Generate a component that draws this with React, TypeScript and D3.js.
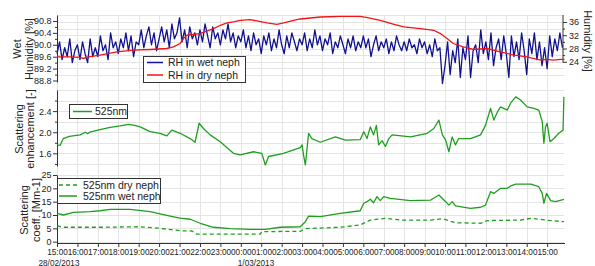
import { useEffect, useRef } from 'react';
import * as d3 from 'd3';

const FONT = '"Liberation Sans", Arial, sans-serif';
const BLUE = '#12128f';
const RED = '#f21414';
const GREEN = '#1f9f1f';

// time axis: hours since 28/02/2013 15:00
const startTime = new Date(2013, 1, 28, 15, 0);
const spanHours = 24.85;
const dateLabels = ['28/02/2013', '1/03/2013'];

// RH in wet neph, one sample every 7.5 min
const wetRhStep = 0.125;
const wetRh = [
  89.7, 90.1, 89.5, 89.9, 89.6, 90.2, 89.4, 89.8,
  90.0, 89.5, 90.1, 89.7, 89.4, 90.2, 89.6, 89.9,
  89.6, 90.3, 89.8, 90.0, 89.5, 90.4, 89.9, 90.1,
  89.7, 90.2, 89.9, 90.4, 89.8, 90.3, 89.6, 90.1,
  90.0, 90.5, 89.9, 90.3, 90.6, 90.0, 90.4, 89.8,
  90.2, 90.6, 90.1, 90.5, 89.9, 90.7, 90.2, 90.4,
  90.9, 90.1, 90.5, 89.9, 90.6, 90.2, 90.4, 90.0,
  90.5, 90.1, 90.7, 90.3, 89.9, 90.6, 90.2, 90.4,
  90.0, 90.5, 90.2, 90.7, 90.1, 90.4, 89.9, 90.3,
  90.1, 90.5, 89.9, 90.3, 89.8, 90.4, 90.0, 90.2,
  89.7, 90.3, 90.0, 90.4, 89.8, 90.2, 89.9, 90.5,
  90.0, 89.7, 90.3, 89.9, 90.4, 90.1, 89.8, 90.2,
  90.0, 90.4, 89.8, 90.2, 89.9, 90.5, 90.0, 90.3,
  89.8, 90.2, 90.0, 90.4, 89.7, 90.1, 89.9, 90.3,
  90.0, 89.7, 90.2, 89.9, 90.3, 89.8, 90.1, 89.9,
  90.3, 89.9, 90.2, 89.6, 90.0, 90.3, 89.8, 90.1,
  89.9, 90.2, 89.7, 90.1, 89.8, 90.3, 90.0, 89.8,
  90.1, 89.8, 90.2, 89.9, 90.0, 89.7, 90.2, 89.9,
  90.1, 89.7, 90.0, 89.6, 90.2, 89.8, 89.9, 88.7,
  89.3, 90.1, 89.0, 89.8, 89.4, 90.2, 88.9, 89.9,
  89.5, 90.3, 88.9, 89.8, 90.0, 89.4, 90.5, 89.7,
  90.1, 89.5, 90.4, 89.3, 89.9, 90.2, 89.5, 90.3,
  89.7, 88.9, 90.3, 89.6, 90.1, 89.5, 90.4, 89.8,
  89.0, 90.2, 89.7, 90.4, 89.5, 90.1, 89.3, 89.9,
  89.2, 90.3, 89.6, 90.2, 89.8, 90.4, 89.9,
];

// RH in dry neph (right axis)
const dryRhHours = [
  0, 0.6, 1.13, 1.29, 1.5, 2.1, 2.93, 3.74, 4.56, 5.37, 5.7, 6.03, 6.19, 6.36, 7.0, 7.66,
  8.0, 8.32, 8.64, 8.97, 9.46, 9.79, 10.28, 10.77, 11.1, 11.59, 11.91, 12.9, 13.87, 14.85,
  15.2, 15.83, 16.5, 16.98, 17.8, 18.45, 18.77, 19.1, 19.4, 19.9, 20.4, 21.06, 21.7, 22.4,
  23.0, 23.7, 24.0, 24.3, 24.66, 24.85,
];
const dryRh = [
  25.5, 25.5, 25.3, 25.0, 25.4, 26.0, 27.0, 27.5, 27.7, 28.0, 28.5, 29.5, 31.0, 32.0, 32.5, 34.0,
  35.0, 35.7, 36.0, 36.5, 36.7, 36.3, 35.7, 35.3, 35.7, 36.5, 36.9, 37.5, 37.7, 37.7,
  37.3, 36.5, 35.3, 34.5, 34.0, 33.5, 32.5, 31.0, 29.5, 28.5, 27.7, 28.0, 27.0, 26.0,
  25.5, 24.5, 24.7, 24.5, 24.7, 24.7,
];

// scattering enhancement at 525 nm
const enhHours = [
  0, 0.15, 0.31, 0.6, 1.13, 1.4, 1.5, 1.6, 2.11, 2.6, 3.09, 3.5, 3.8, 4.07, 4.56, 5.05, 5.38,
  5.62, 6.03, 6.52, 6.76, 6.96, 7.17, 7.5, 7.99, 8.64, 8.97, 9.62, 10.03, 10.2, 10.36, 11.09,
  11.91, 12.0, 12.07, 12.16, 12.32, 12.48, 12.89, 13.63, 14.12, 14.85, 15.02, 15.18, 15.34,
  15.5, 15.64, 15.75, 15.92, 16.08, 16.25, 16.41, 17.31, 18.13, 18.45, 18.7, 18.87, 19.03,
  19.19, 19.35, 19.51, 19.67, 20.25, 20.74, 20.98, 21.23, 21.39, 21.56, 21.72, 22.05, 22.21,
  22.46, 22.7, 23.02, 23.35, 23.59, 23.76, 23.84, 23.92, 24.0, 24.14, 24.33, 24.57, 24.78, 24.82,
];
const enh = [
  1.76, 1.75, 1.88, 1.92, 1.95, 2.0, 1.97, 2.0, 2.05, 2.09, 2.12, 2.15, 2.13, 2.1, 2.01, 1.98, 1.93,
  2.04, 1.98, 1.88, 1.81, 2.17, 2.07, 1.95, 1.82, 1.6, 1.57, 1.63, 1.6, 1.38, 1.54, 1.6,
  1.71, 1.76, 1.57, 1.38, 1.98, 1.88, 1.81, 1.91, 1.85, 1.86, 2.01, 1.88, 2.1,
  1.95, 2.13, 1.76, 1.84, 1.73, 1.88, 1.95, 1.91, 1.98, 2.07, 2.23, 1.95, 1.85,
  1.63, 1.91, 1.76, 1.88, 1.88, 1.95, 2.13, 2.45, 2.23, 2.38, 2.48, 2.42, 2.55,
  2.67, 2.61, 2.48, 2.45, 2.42, 2.2, 1.79, 2.1, 2.17, 1.82, 1.88, 1.98, 2.04, 2.67,
];

// scattering coefficient, wet neph
const wetScatHours = [
  0, 0.31, 0.8, 1.62, 2.1, 2.6, 3.58, 3.9, 4.56, 5.05, 5.54, 6.03, 6.52, 7.01, 7.66, 8.48, 9.46,
  10.2, 10.93, 11.91, 12.16, 12.32, 12.89, 13.87, 14.85, 15.02, 15.18, 15.34, 15.5, 15.67, 15.83,
  16.0, 16.32, 17.31, 18.3, 18.7, 19.03, 19.19, 19.35, 19.51, 20.25, 20.74, 20.98, 21.23, 21.39,
  21.72, 22.05, 22.21, 22.46, 23.2, 23.59, 23.76, 23.84, 23.97, 24.17, 24.41, 24.82,
];
const wetScat = [
  10.6, 10.0, 11.0, 11.25, 11.6, 12.1, 12.1, 11.8, 11.25, 10.4, 9.6, 8.8, 8.4, 6.9, 5.4, 4.9, 4.6,
  4.6, 5.4, 5.6, 7.5, 9.6, 9.4, 10.6, 11.6, 14.4, 15.0, 15.9, 14.6, 16.9, 15.4,
  16.9, 16.2, 15.4, 15.6, 17.5, 15.0, 13.7, 15.0, 13.4, 12.5, 12.9, 13.7, 18.75, 18.1,
  20.0, 20.0, 20.9, 21.6, 21.6, 20.6, 18.1, 14.4, 18.1, 15.4, 15.0, 15.9,
];

// scattering coefficient, dry neph
const dryScatHours = [
  0, 0.31, 2.1, 4.07, 5.05, 6.03, 6.6, 6.85, 9.95, 10.03, 11.91, 12.16, 13.87, 14.85, 15.34,
  16.08, 16.81, 18.3, 18.87, 19.51, 20.74, 21.07, 22.7, 23.2, 24.17, 24.82,
];
const dryScat = [
  5.9, 5.4, 5.4, 5.6, 5.0, 4.1, 4.0, 2.8, 2.8, 3.75, 3.9, 4.9, 5.4, 6.25, 8.1,
  8.75, 8.1, 8.1, 8.6, 7.1, 6.9, 7.9, 8.1, 8.75, 7.9, 7.5,
];

const wetRhTicks = [88.8, 89.2, 89.6, 90.0, 90.4, 90.8];
const wetRhMinor = [89.0, 89.4, 89.8, 90.2, 90.6];
const dryRhTicks = [24, 28, 32, 36];
const dryRhMinor = [26, 30, 34];
const dryRhGrid = [20, 22, 24, 26, 28, 30, 32, 34, 36, 38];
const enhTicks = [1.6, 2.0, 2.4];
const enhMinor = [1.4, 1.8, 2.2, 2.6];
const scatTicks = [0, 5, 10, 15, 20, 25];

const at = (h: number) => new Date(startTime.getTime() + h * 3600e3);

export default function App() {
  const svgRef = useRef<SVGSVGElement>(null);

  useEffect(() => {
    if (!svgRef.current) return;
    const svg = d3.select(svgRef.current);
    svg.selectAll('*').remove();

    const left = 57;
    const right = 564;
    const x = d3.scaleTime().domain([startTime, at(spanHours)]).range([left, right + 0.5]);
    const yWet = d3.scaleLinear().domain([88.75, 91.0]).range([82, 15]);
    const yDry = d3.scaleLinear().domain([17.9, 38.1]).range([82, 15]);
    const yEnh = d3.scaleLinear().domain([1.36, 2.8]).range([166, 90]);
    const yScat = d3.scaleLinear().domain([-0.5, 25]).range([243, 175]);

    const hourTicks = x.ticks(d3.timeHour.every(1)!);

    // Grid
    const grid = svg.append('g').attr('stroke', '#e4e4e4').attr('stroke-width', 1);
    grid.selectAll('.vg')
      .data(hourTicks)
      .join('line')
      .attr('x1', (d) => Math.round(x(d)) + 0.5)
      .attr('x2', (d) => Math.round(x(d)) + 0.5)
      .attr('y1', 15)
      .attr('y2', 243);
    const hGrid = (vals: number[], y: d3.ScaleLinear<number, number>) => {
      grid.append('g')
        .selectAll('line')
        .data(vals)
        .join('line')
        .attr('x1', left).attr('x2', right)
        .attr('y1', (d) => Math.round(y(d)) + 0.5)
        .attr('y2', (d) => Math.round(y(d)) + 0.5);
    };
    hGrid(dryRhGrid, yDry);
    hGrid(d3.range(1.4, 2.81, 0.2), yEnh);
    hGrid(scatTicks, yScat);

    // Axes
    const styleAxis = (g: d3.Selection<SVGGElement, unknown, null, undefined>, size = 9) => {
      g.attr('font-family', FONT).attr('font-size', size);
      g.select('.domain').attr('stroke', '#333');
      g.selectAll('.tick line').attr('stroke', '#333');
      g.selectAll('.tick text').attr('fill', '#222');
    };
    const leftAxis = (y: d3.ScaleLinear<number, number>, ticks: number[], fmt: string, minor: number[]) => {
      const g = svg.append('g').attr('transform', `translate(${left},0)`)
        .call(d3.axisLeft(y).tickValues(ticks).tickSize(4).tickPadding(1.5).tickSizeOuter(0)
          .tickFormat((d) => d3.format(fmt)(d as number)));
      styleAxis(g);
      if (minor.length) {
        const m = svg.append('g').attr('transform', `translate(${left},0)`)
          .call(d3.axisLeft(y).tickValues(minor).tickSize(2).tickFormat(() => ''));
        m.select('.domain').remove();
        m.selectAll('.tick line').attr('stroke', '#333');
      }
    };
    leftAxis(yWet, wetRhTicks, '.1f', wetRhMinor);
    leftAxis(yEnh, enhTicks, '.1f', enhMinor);
    leftAxis(yScat, scatTicks, 'd', []);

    const ra = svg.append('g').attr('transform', `translate(${right - 1},0)`)
      .call(d3.axisRight(yDry).tickValues(dryRhTicks).tickSize(4).tickPadding(2).tickSizeOuter(0));
    styleAxis(ra);
    ra.select('.domain').remove();
    ra.append('line')
      .attr('y1', yDry.range()[1]).attr('y2', yDry(24) + 1)
      .attr('stroke', '#333');
    const rm = svg.append('g').attr('transform', `translate(${right - 1},0)`)
      .call(d3.axisRight(yDry).tickValues(dryRhMinor).tickSize(2).tickFormat(() => ''));
    rm.select('.domain').remove();
    rm.selectAll('.tick line').attr('stroke', '#333');

    const xa = svg.append('g').attr('transform', 'translate(0,243)')
      .call(d3.axisBottom(x).tickValues(hourTicks).tickSize(4).tickPadding(2.5).tickSizeOuter(0)
        .tickFormat((d) => d3.timeFormat('%H:%M')(d as Date)));
    styleAxis(xa, 8.2);

    // Date labels
    const midnight = hourTicks.find((d) => d.getHours() === 0)!;
    svg.append('text')
      .attr('x', x(startTime) + 2).attr('y', 265.5)
      .attr('text-anchor', 'middle')
      .attr('font-family', FONT).attr('font-size', 8.2).attr('fill', '#222')
      .text(dateLabels[0]);
    svg.append('text')
      .attr('x', x(midnight) - 3).attr('y', 265.5)
      .attr('text-anchor', 'start')
      .attr('font-family', FONT).attr('font-size', 8.2).attr('fill', '#222')
      .text(dateLabels[1]);

    // Axis titles
    const title = (lines: string[], xs: number[], cy: number, rot = -90) => {
      lines.forEach((t, i) => {
        svg.append('text')
          .attr('transform', `translate(${xs[i]},${cy}) rotate(${rot})`)
          .attr('text-anchor', 'middle')
          .attr('font-family', FONT).attr('font-size', 11).attr('fill', '#222')
          .text(t);
      });
    };
    title(['Wet', 'Humidity [%]'], [20.5, 33], 49);
    title(['Scattering', 'enhancement [-]'], [22.5, 34], 129);
    title(['Scattering', 'coeff. [Mm-1]'], [28, 39.5], 210);
    title(['Humidity [%]'], [583.5], 41, 90);

    // Series
    const line = d3.line<[number, number]>().x((d) => x(at(d[0]))).y((d) => d[1]);
    const zip = (hs: number[], vs: number[], y: d3.ScaleLinear<number, number>) =>
      hs.map((h, i) => [h, y(vs[i])] as [number, number]);

    svg.append('path')
      .attr('d', line(wetRh.map((v, i) => [i * wetRhStep, yWet(v)] as [number, number])))
      .attr('fill', 'none').attr('stroke', BLUE).attr('stroke-width', 1.3).attr('stroke-linejoin', 'round');
    svg.append('path')
      .attr('d', line(zip(dryRhHours, dryRh, yDry)))
      .attr('fill', 'none').attr('stroke', RED).attr('stroke-width', 1.3);
    svg.append('path')
      .attr('d', line(zip(enhHours, enh, yEnh)))
      .attr('fill', 'none').attr('stroke', GREEN).attr('stroke-width', 1.3).attr('stroke-linejoin', 'round');
    svg.append('path')
      .attr('d', line(zip(wetScatHours, wetScat, yScat)))
      .attr('fill', 'none').attr('stroke', GREEN).attr('stroke-width', 1.3).attr('stroke-linejoin', 'round');
    svg.append('path')
      .attr('d', line(zip(dryScatHours, dryScat, yScat)))
      .attr('fill', 'none').attr('stroke', GREEN).attr('stroke-width', 1.3)
      .attr('stroke-dasharray', '4,3');

    // Legends
    const legend = (bx: number, by: number, bw: number, bh: number,
      items: { label: string; color: string; dash?: string }[], lx0: number, lx1: number, tx: number, rowY: number[]) => {
      const g = svg.append('g');
      g.append('rect')
        .attr('x', bx + 0.5).attr('y', by + 0.5).attr('width', bw).attr('height', bh)
        .attr('fill', '#fff').attr('stroke', '#333').attr('stroke-width', 1);
      items.forEach((it, i) => {
        g.append('line')
          .attr('x1', lx0).attr('x2', lx1).attr('y1', rowY[i]).attr('y2', rowY[i])
          .attr('stroke', it.color).attr('stroke-width', 1.5)
          .attr('stroke-dasharray', it.dash ?? null);
        g.append('text')
          .attr('x', tx).attr('y', rowY[i] + 3.8)
          .attr('font-family', FONT).attr('font-size', 10.5).attr('fill', '#222')
          .text(it.label);
      });
    };
    legend(143, 56, 102, 26, [
      { label: 'RH in wet neph', color: BLUE },
      { label: 'RH in dry neph', color: RED },
    ], 147, 163, 168, [62.5, 75]);
    legend(69, 104, 58, 14, [{ label: '525nm', color: GREEN }], 73, 92, 95, [111.5]);
    legend(57, 178, 103, 25, [
      { label: '525nm dry neph', color: GREEN, dash: '4,3' },
      { label: '525nm wet neph', color: GREEN },
    ], 59, 77, 83, [185, 196]);
  }, []);

  return (
    <svg
      ref={svgRef}
      width={595}
      height={266}
      style={{ position: 'absolute', left: 0, top: 0, background: '#fff' }}
    />
  );
}
